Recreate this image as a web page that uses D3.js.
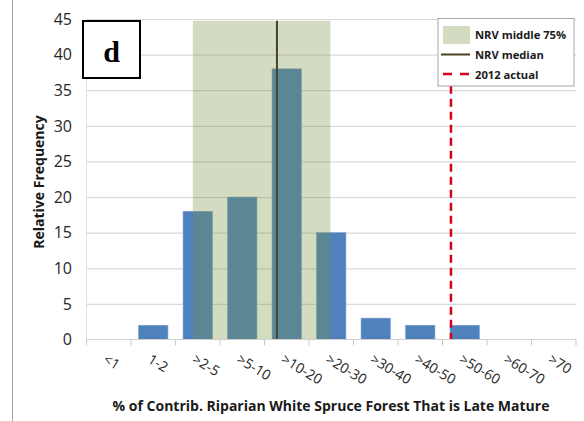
<!DOCTYPE html>
<html lang="en">
<head>
  <meta charset="UTF-8" />
  <title>Late Mature Riparian White Spruce</title>
  <script src="https://d3js.org/d3.v7.min.js"></script>
  <style>
    body { margin: 0; background: #fff; }
    svg text { font-family: "Open Sans", "Noto Sans", sans-serif; }
  </style>
</head>
<body>
  <svg id="chart" width="584" height="421"></svg>

  <script>
    // data
    const categories = ["<1", "1-2", ">2-5", ">5-10", ">10-20", ">20-30", ">30-40", ">40-50", ">50-60", ">60-70", ">70"];
    const frequency = [0, 2, 18, 20, 38, 15, 3, 2, 2, 0, 0];
    const yTicks = [0, 5, 10, 15, 20, 25, 30, 35, 40, 45];
    // reference lines, in category units along the x axis
    const nrvMiddle75 = [2.39, 5.48];
    const nrvMedian = 4.28;
    const actual2012 = 8.19;

    const svg = d3.select("#chart");
    const plotLeft = 86.5, plotRight = 576, plotTop = 19, plotBottom = 339.5;

    const x = d3.scaleBand()
      .domain(categories)
      .range([plotLeft, plotRight])
      .paddingInner(0.34)
      .paddingOuter(0.17);

    const xPos = d3.scaleLinear().domain([0, categories.length]).range([plotLeft, plotRight]);

    const y = d3.scaleLinear().domain([0, 45]).range([plotBottom, plotTop]);

    // page border on the left
    svg.append("line")
      .attr("x1", 12.5).attr("x2", 12.5)
      .attr("y1", 0).attr("y2", 421)
      .attr("stroke", "#a6a6a6").attr("stroke-width", 1);

    // gridlines
    svg.append("g")
      .selectAll("line")
      .data(yTicks.filter(d => d > 0))
      .join("line")
      .attr("x1", plotLeft).attr("x2", plotRight)
      .attr("y1", d => y(d) + 0.5).attr("y2", d => y(d) + 0.5)
      .attr("stroke", "#d9d9d9").attr("stroke-width", 1.2);

    // y axis line
    svg.append("line")
      .attr("x1", plotLeft).attr("x2", plotLeft)
      .attr("y1", plotTop).attr("y2", plotBottom)
      .attr("stroke", "#e0e0e0");

    // bars
    svg.append("g")
      .selectAll("rect")
      .data(frequency)
      .join("rect")
      .attr("x", (d, i) => x(categories[i]))
      .attr("y", d => y(d))
      .attr("width", x.bandwidth())
      .attr("height", d => plotBottom - y(d))
      .attr("fill", "#4f81bd")
      .attr("stroke", "#7ea1cf")
      .attr("stroke-width", 0.6);

    // NRV middle 75% band
    svg.append("rect")
      .attr("x", xPos(nrvMiddle75[0]))
      .attr("y", y(44.75))
      .attr("width", xPos(nrvMiddle75[1]) - xPos(nrvMiddle75[0]))
      .attr("height", plotBottom - y(44.75))
      .attr("fill", "#76923c")
      .attr("fill-opacity", 0.32);

    // NRV median
    svg.append("line")
      .attr("x1", xPos(nrvMedian)).attr("x2", xPos(nrvMedian))
      .attr("y1", y(44.75)).attr("y2", plotBottom)
      .attr("stroke", "#4a4228").attr("stroke-width", 2);

    // 2012 actual
    svg.append("line")
      .attr("x1", xPos(actual2012)).attr("x2", xPos(actual2012))
      .attr("y1", y(44.75)).attr("y2", plotBottom)
      .attr("stroke", "#d6001c").attr("stroke-width", 2.5)
      .attr("stroke-dasharray", "8,5");

    // x axis line and ticks
    svg.append("line")
      .attr("x1", plotLeft).attr("x2", plotRight)
      .attr("y1", plotBottom).attr("y2", plotBottom)
      .attr("stroke", "#d0d0d0").attr("stroke-width", 1.2);

    svg.append("g")
      .selectAll("line")
      .data(d3.range(categories.length + 1))
      .join("line")
      .attr("x1", d => xPos(d)).attr("x2", d => xPos(d))
      .attr("y1", plotBottom).attr("y2", plotBottom + 6)
      .attr("stroke", "#c8c8c8");

    // y tick labels
    svg.append("g")
      .selectAll("text")
      .data(yTicks)
      .join("text")
      .attr("x", 72)
      .attr("y", d => y(d))
      .attr("dy", "0.36em")
      .attr("text-anchor", "end")
      .attr("font-size", 16)
      .attr("fill", "#262626")
      .text(d => d);

    // x tick labels, rotated
    svg.append("g")
      .selectAll("text")
      .data(categories)
      .join("text")
      .attr("transform", d => `translate(${x(d) + x.bandwidth() / 2 - 1},${353}) rotate(31)`)
      .attr("dy", "0.75em")
      .attr("text-anchor", "start")
      .attr("font-size", 14)
      .attr("fill", "#262626")
      .text(d => d);

    // axis titles
    svg.append("text")
      .attr("x", 331)
      .attr("y", 411)
      .attr("text-anchor", "middle")
      .attr("font-size", 14)
      .attr("font-weight", "bold")
      .attr("fill", "#1a1a1a")
      .text("% of Contrib. Riparian White Spruce Forest That is Late Mature");

    svg.append("text")
      .attr("transform", "translate(44,182) rotate(-90)")
      .attr("text-anchor", "middle")
      .attr("font-size", 14)
      .attr("font-weight", "bold")
      .attr("fill", "#1a1a1a")
      .text("Relative Frequency");

    // panel letter
    svg.append("rect")
      .attr("x", 83).attr("y", 21)
      .attr("width", 57).attr("height", 57)
      .attr("fill", "#fff")
      .attr("stroke", "#000").attr("stroke-width", 2);

    svg.append("text")
      .attr("x", 111.5).attr("y", 62)
      .attr("text-anchor", "middle")
      .attr("font-size", 30)
      .attr("font-weight", "bold")
      .style("font-family", "'Liberation Serif', 'DejaVu Serif', serif")
      .text("d");

    // legend
    const legend = svg.append("g");
    legend.append("rect")
      .attr("x", 438).attr("y", 18.5)
      .attr("width", 136).attr("height", 67.5)
      .attr("fill", "#fff")
      .attr("stroke", "#a6a6a6").attr("stroke-width", 1);

    legend.append("rect")
      .attr("x", 443).attr("y", 26)
      .attr("width", 27).attr("height", 18)
      .attr("fill", "#76923c").attr("fill-opacity", 0.32);

    legend.append("line")
      .attr("x1", 441).attr("x2", 470)
      .attr("y1", 54.5).attr("y2", 54.5)
      .attr("stroke", "#4a4228").attr("stroke-width", 2);

    legend.append("line")
      .attr("x1", 443).attr("x2", 470)
      .attr("y1", 74).attr("y2", 74)
      .attr("stroke", "#d6001c").attr("stroke-width", 2.5)
      .attr("stroke-dasharray", "9,8");

    const legendLabels = ["NRV middle 75%", "NRV median", "2012 actual"];
    legend.selectAll("text.lbl")
      .data(legendLabels)
      .join("text")
      .attr("class", "lbl")
      .attr("x", 475)
      .attr("y", (d, i) => 39 + i * 20)
      .attr("font-size", 11.2)
      .attr("font-weight", "bold")
      .attr("fill", "#1a1a1a")
      .text(d => d);
  </script>
</body>
</html>
